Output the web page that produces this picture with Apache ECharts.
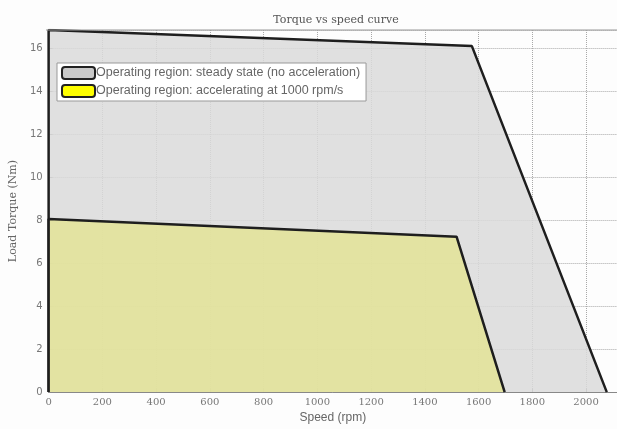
<!DOCTYPE html>
<html>
<head>
<meta charset="utf-8">
<script src="https://cdn.jsdelivr.net/npm/echarts@6/dist/echarts.min.js"></script>
<style>
  html, body { margin: 0; padding: 0; background: #fdfdfd; }
  #chart { width: 617px; height: 429px; }
</style>
</head>
<body>
<div id="chart"></div>
<script>
const steadySpeed = [0, 0, 1575, 2077];
const steadyTorque = [0, 16.85, 16.1, 0];
const accelSpeed = [0, 0, 1518, 1697];
const accelTorque = [0, 8.05, 7.23, 0];

const steadyName = "Operating region: steady state (no acceleration)";
const accelName = "Operating region: accelerating at 1000 rpm/s";

const pairs = (xs, ys) => xs.map((x, i) => [x, ys[i]]);

const chart = echarts.init(document.getElementById("chart"), null, { renderer: "canvas" });

chart.setOption({
  animation: false,
  backgroundColor: "#fdfdfd",
  title: {
    text: "Torque vs speed curve",
    left: 331,
    textAlign: "center",
    top: 10,
    textStyle: { fontFamily: "DejaVu Serif", fontWeight: "normal", fontSize: 11, color: "#555" }
  },
  grid: { left: 46, right: 0, top: 30, bottom: 31 },
  legend: {
    orient: "vertical",
    left: 57,
    top: 63,
    padding: [3, 6, 3, 4],
    itemGap: 4,
    itemWidth: 33,
    itemHeight: 12,
    backgroundColor: "#fff",
    borderColor: "#999",
    borderWidth: 1,
    icon: "roundRect",
    textStyle: { fontFamily: "Liberation Sans", fontSize: 12.5, color: "#666", padding: [0, 0, 0, -4] },
    data: [
      { name: steadyName, itemStyle: { color: "#c9c9c9", borderColor: "#222", borderWidth: 2 } },
      { name: accelName, itemStyle: { color: "#ffff00", borderColor: "#222", borderWidth: 2 } }
    ]
  },
  xAxis: {
    type: "value",
    min: 0,
    max: 2115,
    interval: 200,
    name: "Speed (rpm)",
    nameLocation: "middle",
    nameGap: 17,
    nameTextStyle: { fontFamily: "Liberation Sans", fontSize: 12, color: "#666" },
    axisLine: { lineStyle: { color: "#888" } },
    axisTick: { inside: true, length: 4, lineStyle: { color: "#888" } },
    axisLabel: { showMaxLabel: false, formatter: (v) => String(v), fontFamily: "DejaVu Serif", fontSize: 10, color: "#777", margin: 5 },
    splitLine: { lineStyle: { type: "dotted", color: "#a8a8a8" } }
  },
  yAxis: {
    type: "value",
    min: 0,
    max: 16.85,
    interval: 2,
    name: "Load Torque (Nm)",
    nameLocation: "middle",
    nameGap: 26,
    nameTextStyle: { fontFamily: "DejaVu Serif", fontSize: 11, color: "#666" },
    axisLine: { lineStyle: { color: "#888" } },
    axisTick: { show: true, inside: true, length: 4, lineStyle: { color: "#888" } },
    axisLabel: { showMaxLabel: false, fontFamily: "DejaVu Sans", fontSize: 10, color: "#777", margin: 6 },
    splitLine: { lineStyle: { type: "dotted", color: "#a8a8a8" } }
  },
  series: [
    {
      name: steadyName,
      type: "line",
      data: pairs(steadySpeed, steadyTorque),
      symbol: "none",
      lineStyle: { color: "#1e1e1e", width: 2.5 },
      itemStyle: { color: "#c9c9c9" },
      areaStyle: { color: "rgb(218,218,218)", opacity: 0.85 },
      z: 2
    },
    {
      name: accelName,
      type: "line",
      data: pairs(accelSpeed, accelTorque),
      symbol: "none",
      lineStyle: { color: "#1e1e1e", width: 2.5 },
      itemStyle: { color: "#ffff00" },
      areaStyle: { color: "rgb(227,227,151)", opacity: 0.85 },
      z: 3
    }
  ],
  graphic: [
    {
      type: "line",
      shape: { x1: 46, y1: 30, x2: 617, y2: 30 },
      style: { stroke: "#999", lineWidth: 1 },
      z: 10
    }
  ]
});
</script>
</body>
</html>
